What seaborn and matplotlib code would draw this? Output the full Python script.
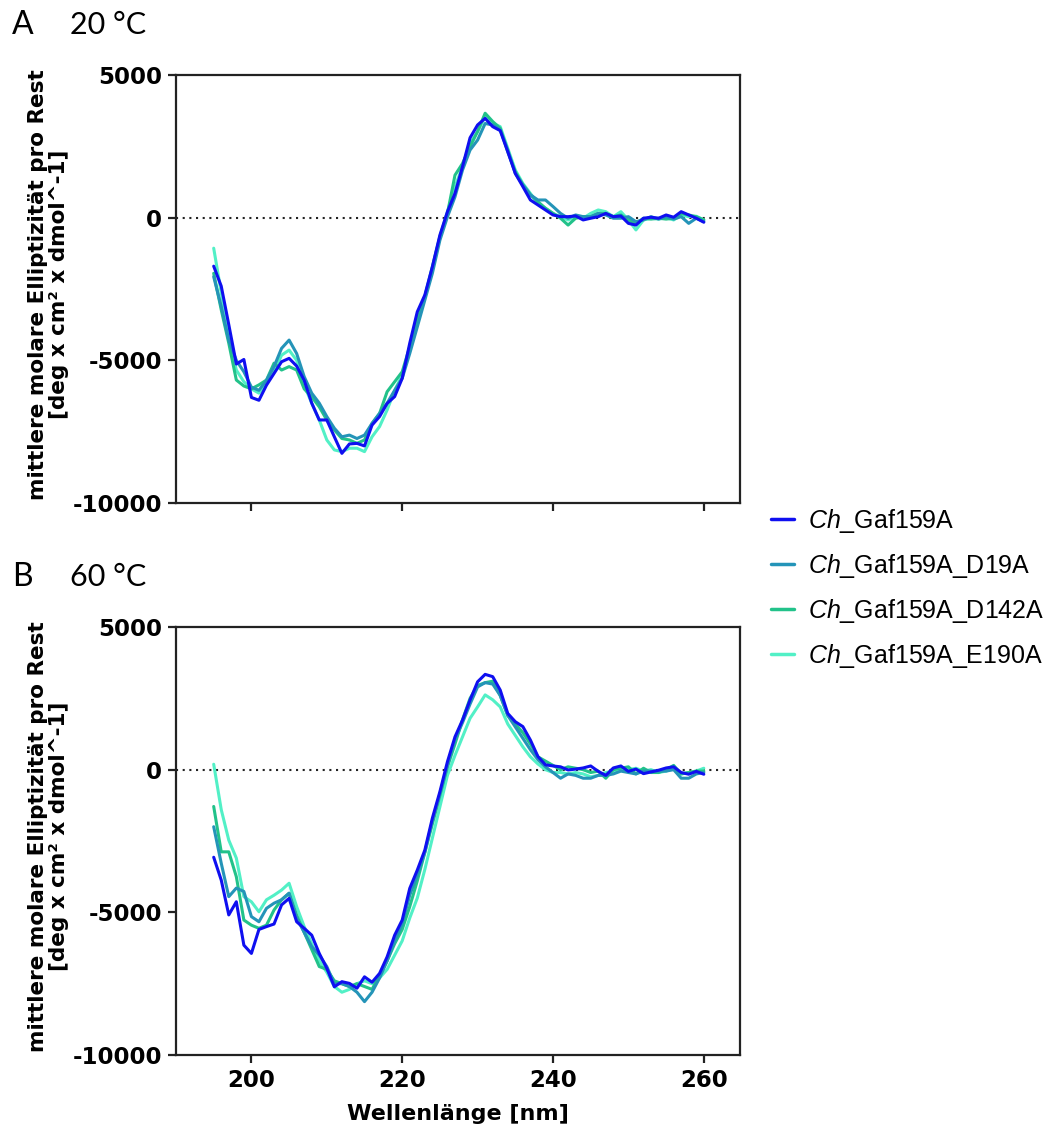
import numpy as np
import pandas as pd
import matplotlib
matplotlib.use("Agg")
import matplotlib.pyplot as plt
import seaborn as sns
from matplotlib.lines import Line2D

sns.set_theme(style="white")
plt.rcParams['font.family'] = ['Liberation Sans', 'DejaVu Sans']
plt.rcParams['mathtext.fontset'] = 'custom'
plt.rcParams['mathtext.it'] = 'Liberation Sans:italic'
plt.rcParams['mathtext.rm'] = 'Liberation Sans'
for k in ['text.color', 'axes.labelcolor', 'xtick.color', 'ytick.color']:
    plt.rcParams[k] = 'black'

wavelength = list(range(195, 261))

series_names = ["Ch_Gaf159A", "Ch_Gaf159A_D19A", "Ch_Gaf159A_D142A", "Ch_Gaf159A_E190A"]
legend_labels = [r"$\it{Ch}$_Gaf159A", r"$\it{Ch}$_Gaf159A_D19A",
                 r"$\it{Ch}$_Gaf159A_D142A", r"$\it{Ch}$_Gaf159A_E190A"]
colors = ["#0f0ff0", "#2494b8", "#22c28a", "#52f0c6"]

# 20 °C
a20_wt = [-1700, -2400, -3750, -5130, -4970, -6300, -6400, -5870, -5460, -5050,
          -4930, -5200, -5700, -6500, -7090, -7090, -7680, -8260, -7930, -7910,
          -8000, -7270, -6970, -6510, -6270, -5630, -4400, -3300, -2710, -1720,
          -610, 210, 850, 1790, 2800, 3250, 3480, 3190, 3050, 2310,
          1550, 1090, 620, 445, 270, 95, 35, 35, 60, -80,
          -20, 35, 150, 35, 60, -200, -260, -20, 15, -20,
          95, 15, 210, 95, -20, -160]
a20_d19 = [-2070, -3120, -4300, -5000, -5400, -5940, -6050, -5700, -5220, -4580,
           -4290, -4760, -5570, -6150, -6500, -6970, -7380, -7680, -7620, -7740,
           -7620, -7210, -6860, -6500, -6050, -5630, -4760, -3830, -2890, -1950,
           -790, 30, 730, 1670, 2370, 2720, 3300, 3250, 3070, 2370,
           1550, 1150, 800, 620, 620, 390, 150, -20, 95, 35,
           35, 150, 95, -20, -20, 35, -140, -80, 35, -50,
           35, -50, 35, -200, -20, -140]
a20_d142 = [-1950, -3230, -4400, -5690, -5900, -6000, -5860, -5690, -5100, -5340,
            -5220, -5340, -6000, -6280, -6630, -7090, -7440, -7740, -7790, -7910,
            -7790, -7210, -6860, -6100, -5750, -5400, -4520, -3590, -2770, -1720,
            -670, 150, 1490, 1900, 2490, 3020, 3660, 3370, 3130, 2310,
            1610, 1150, 800, 560, 330, 150, -20, -260, -20, 35,
            35, 150, 150, 35, 95, -80, -200, -20, -50, -20,
            -50, -20, 150, 95, 35, -80]
a20_e190 = [-1070, -2630, -4170, -5340, -5750, -6000, -6150, -5810, -5400, -4820,
            -4640, -5000, -5870, -6500, -7090, -7790, -8140, -8200, -8080, -8080,
            -8200, -7680, -7320, -6740, -6050, -5520, -4640, -3710, -2770, -1780,
            -670, 210, 1080, 1790, 2610, 3020, 3540, 3310, 3190, 2430,
            1670, 1200, 850, 500, 330, 150, 35, -80, 35, -20,
            150, 270, 210, 35, 210, -80, -430, -80, -20, -50,
            0, -80, 95, 35, 50, -80]

# 60 °C
b60_wt = [-3070, -3870, -5090, -4630, -6150, -6440, -5600, -5500, -5410, -4740,
          -4510, -5330, -5560, -5800, -6440, -6960, -7610, -7430, -7490, -7660,
          -7260, -7450, -7140, -6560, -5800, -5270, -4160, -3520, -2820, -1700,
          -770, 280, 1150, 1740, 2440, 3080, 3340, 3260, 2790, 1970,
          1680, 1510, 1040, 460, 170, 130, 100, -10, 20, 60,
          130, -60, -200, 60, 130, -60, 20, -140, -80, -20,
          60, 100, -100, -160, -60, -160]
b60_d19 = [-2000, -3280, -4450, -4150, -4270, -5150, -5330, -4860, -4680, -4560,
           -4330, -5200, -5700, -6200, -6500, -6900, -7500, -7500, -7600, -7800,
           -8130, -7800, -7300, -6700, -6000, -5400, -4400, -3700, -2900, -1800,
           -850, 150, 1050, 1650, 2300, 2900, 3050, 3000, 2600, 1900,
           1500, 1100, 700, 350, 100, -100, -300, -150, -200, -300,
           -300, -200, -200, -150, -50, -100, -150, -50, -50, -50,
           -50, 0, -300, -300, -150, -100]
b60_d142 = [-1290, -2880, -2880, -3750, -5270, -5450, -5560, -5450, -4920, -4560,
            -4330, -5100, -5700, -6300, -6900, -7000, -7400, -7500, -7600, -7500,
            -7600, -7700, -7200, -6700, -6100, -5600, -4800, -3900, -2900, -1900,
            -900, 100, 900, 1750, 2500, 2950, 3050, 3100, 2600, 1900,
            1600, 1300, 900, 450, 300, 150, 0, 100, 50, 0,
            -100, -50, -300, 0, 50, 100, -150, 50, -100, -100,
            0, 150, -150, -100, -50, -50]
b60_e190 = [190, -1400, -2470, -3100, -4450, -4630, -4980, -4560, -4400, -4220,
            -3980, -4800, -5500, -6100, -6700, -7100, -7600, -7800, -7700, -7500,
            -7400, -7500, -7300, -7000, -6500, -6000, -5200, -4500, -3500, -2400,
            -1300, -200, 500, 1150, 1800, 2200, 2620, 2450, 2200, 1600,
            1200, 800, 450, 200, 0, -100, -100, -150, -100, -150,
            -250, -200, -100, -50, 0, 0, 50, -50, 0, -100,
            -50, 50, -150, -100, -50, 50]


def make_df(vals):
    frames = []
    for name, v in zip(series_names, vals):
        frames.append(pd.DataFrame({"wl": wavelength, "val": v, "series": name}))
    return pd.concat(frames, ignore_index=True)


df20 = make_df([a20_wt, a20_d19, a20_d142, a20_e190])
df60 = make_df([b60_wt, b60_d19, b60_d142, b60_e190])

palette = dict(zip(series_names, colors))
draw_order = series_names[::-1]

BOLD = dict(family="DejaVu Sans", weight="bold")

fig = plt.figure(figsize=(10.6, 11.37), dpi=100)
L, R = 176 / 1060, 740 / 1060
ax1 = fig.add_axes([L, 1 - 503 / 1137, R - L, (503 - 75) / 1137])
ax2 = fig.add_axes([L, 1 - 1055 / 1137, R - L, (1055 - 627) / 1137])

for ax, df in [(ax1, df20), (ax2, df60)]:
    sns.lineplot(data=df, x="wl", y="val", hue="series", hue_order=draw_order,
                 palette=palette, linewidth=2.2, ax=ax, legend=False,
                 estimator=None, sort=False)
    ax.axhline(0, color="#222222", linestyle=(0, (1, 2.2)), linewidth=1.5, zorder=0)
    ax.set_xlim(190, 264.8)
    ax.set_ylim(-10000, 5000)
    ax.set_yticks([5000, 0, -5000, -10000])
    ax.set_yticklabels(["5000", "0", "-5000", "-10000"])
    ax.set_xticks([200, 220, 240, 260])
    for s in ax.spines.values():
        s.set_color("#222222")
        s.set_linewidth(1.6)
    ax.tick_params(axis="both", which="major", direction="out", length=6, width=1.6,
                   color="#222222", pad=4, left=True, bottom=True)
    for lab in ax.get_yticklabels() + ax.get_xticklabels():
        lab.set_fontfamily("DejaVu Sans")
        lab.set_fontweight("bold")
        lab.set_fontsize(16.5)
    ax.set_ylabel("mittlere molare Elliptizität pro Rest\n[deg x cm² x dmol^-1]",
                  fontsize=15.5, linespacing=1.05, **BOLD)
    ax.yaxis.set_label_coords(-0.19, 0.51)
    ax.set_xlabel("")

ax1.set_xticklabels([])
ax2.set_xlabel("Wellenlänge [nm]", fontsize=16, labelpad=9, **BOLD)

fig.text(12 / 1060, 1 - 25 / 1137, "A", fontsize=23, family="Lato", va="center", ha="left")
fig.text(70 / 1060, 1 - 25 / 1137, "20 °C", fontsize=22, family="Lato", va="center", ha="left")
fig.text(12 / 1060, 1 - 577 / 1137, "B", fontsize=23, family="Lato", va="center", ha="left")
fig.text(70 / 1060, 1 - 577 / 1137, "60 °C", fontsize=22, family="Lato", va="center", ha="left")

handles = [Line2D([0], [0], color=c, lw=2.5) for c in colors]
fig.legend(handles, legend_labels, loc="upper left",
           bbox_to_anchor=(771 / 1060, 1 - 507 / 1137), frameon=False,
           fontsize=18, handlelength=0.9, handletextpad=0.6, labelspacing=0.68,
           borderpad=0, borderaxespad=0)

fig.savefig("out.png", dpi=100)
